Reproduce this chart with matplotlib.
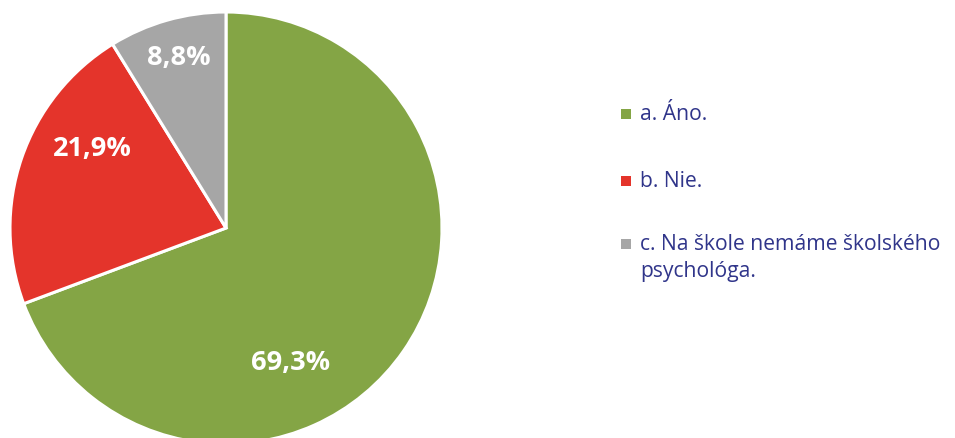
import matplotlib.pyplot as plt

# data
categories = ["a. Áno.", "b. Nie.", "c. Na škole nemáme školského\npsychológa."]
shares = [69.3, 21.9, 8.8]
value_labels = ["69,3%", "21,9%", "8,8%"]
colors = ["#84A545", "#E4342B", "#A6A6A6"]

# label offsets inside the slices (in pie-radius units)
label_xy = [(0.30, -0.62), (-0.62, 0.37), (-0.22, 0.79)]

plt.rcParams['font.family'] = ['Open Sans', 'DejaVu Sans']

W, H = 955, 439
fig = plt.figure(figsize=(W / 100, H / 100), dpi=100)

# pie axes: centre (226, 229) px from top, radius 216 px
cx, cy, r = 226, 229, 216
ax = fig.add_axes([(cx - r) / W, (H - cy - r) / H, 2 * r / W, 2 * r / H])
wedges, _ = ax.pie(shares, colors=colors, startangle=90, counterclock=False,
                   radius=1.0, wedgeprops=dict(edgecolor="white", linewidth=2.2))
ax.set_xlim(-1, 1)
ax.set_ylim(-1, 1)
ax.set_aspect("equal")
ax.axis("off")

for (x, y), txt in zip(label_xy, value_labels):
    ax.text(x, y, txt, ha="center", va="center", color="white",
            fontsize=19.5, fontweight="bold")

# legend drawn by hand so the square lines up with the first text line
lax = fig.add_axes([0, 0, 1, 1])
lax.set_xlim(0, W)
lax.set_ylim(H, 0)
lax.axis("off")
legend_y = [115, 182, 245]
line_gap = 27
for y, lab, col in zip(legend_y, categories, colors):
    lax.scatter([626], [y], marker="s", s=48, color=col, linewidths=0)
    for i, line in enumerate(lab.split("\n")):
        lax.text(640, y + i * line_gap, line, ha="left", va="center",
                 color="#30358A", fontsize=15.2)

fig.savefig("out.png", dpi=100)
